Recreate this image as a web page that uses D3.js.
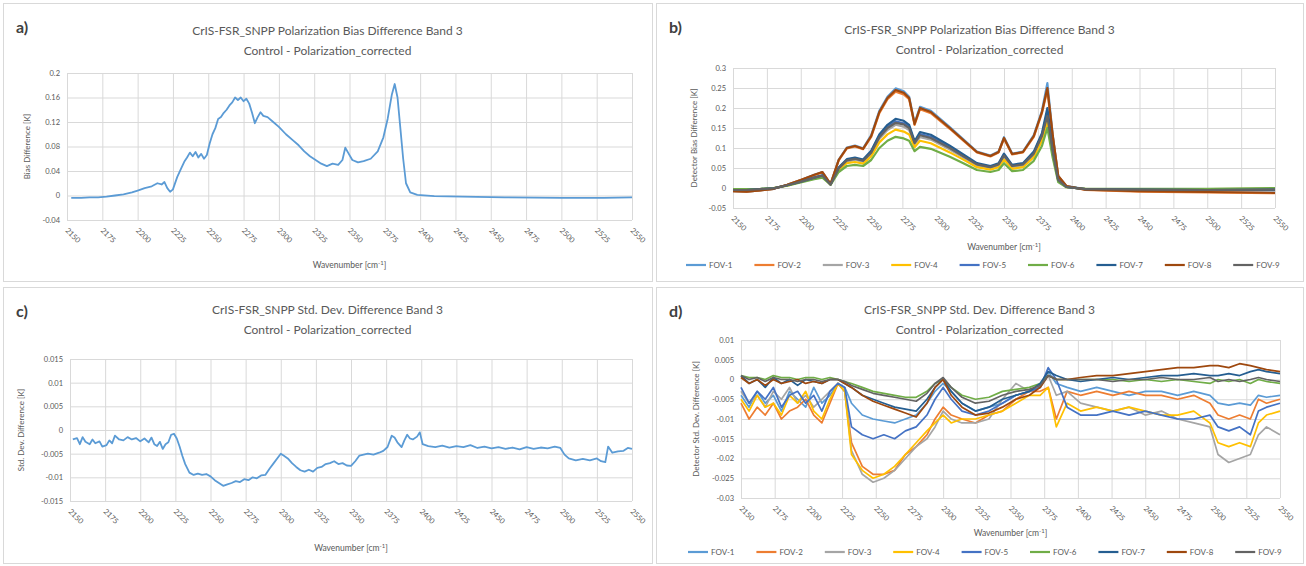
<!DOCTYPE html>
<html>
<head>
<meta charset="utf-8">
<script src="https://cdn.jsdelivr.net/npm/d3@7"></script>
<style>
  html, body { margin: 0; padding: 0; background: #ffffff; }
  svg { display: block; font-family: Lato, "Open Sans", "Liberation Sans", sans-serif; }
</style>
</head>
<body>
<svg id="chart" width="1306" height="566"></svg>
<script>
// ---------------- DATA ----------------
const xTicks = [2150, 2175, 2200, 2225, 2250, 2275, 2300, 2325, 2350, 2375, 2400, 2425, 2450, 2475, 2500, 2525, 2550];
const fovNames = ["FOV-1", "FOV-2", "FOV-3", "FOV-4", "FOV-5", "FOV-6", "FOV-7", "FOV-8", "FOV-9"];
const fovColors = ["#5B9BD5", "#ED7D31", "#A5A5A5", "#FFC000", "#4472C4", "#70AD47", "#255E91", "#9E480E", "#636363"];

const aYTicks = [-0.04, 0, 0.04, 0.08, 0.12, 0.16, 0.2];
const bYTicks = [-0.05, 0, 0.05, 0.1, 0.15, 0.2, 0.25, 0.3];
const cYTicks = [-0.015, -0.01, -0.005, 0, 0.005, 0.01, 0.015];
const dYTicks = [-0.03, -0.025, -0.02, -0.015, -0.01, -0.005, 0, 0.005, 0.01];

// a) mean bias difference
const aWavenumber = [2153,2160,2166,2172,2178,2184,2190,2196,2200,2205,2210,2214,2217,2219,2221,2223,2225,2228,2231,2233,2235,2237,2239,2241,2243,2245,2247,2249,2251,2253,2255,2257,2259,2261,2263,2265,2267,2269,2271,2273,2275,2277,2279,2281,2283,2285,2287,2289,2292,2296,2300,2305,2310,2314,2318,2322,2326,2330,2334,2338,2342,2345,2347,2349,2352,2356,2360,2365,2370,2374,2377,2380,2382,2384,2386,2388,2390,2393,2398,2410,2430,2460,2500,2530,2550];
const aBias = [-0.004,-0.004,-0.003,-0.003,-0.002,0.000,0.002,0.005,0.008,0.012,0.015,0.020,0.018,0.022,0.012,0.006,0.010,0.030,0.045,0.055,0.062,0.070,0.064,0.071,0.062,0.068,0.060,0.066,0.085,0.100,0.110,0.125,0.128,0.135,0.140,0.147,0.152,0.160,0.156,0.160,0.154,0.158,0.150,0.135,0.118,0.128,0.136,0.130,0.128,0.120,0.112,0.100,0.090,0.082,0.072,0.064,0.058,0.052,0.048,0.052,0.050,0.058,0.078,0.070,0.058,0.054,0.056,0.060,0.072,0.095,0.125,0.165,0.182,0.160,0.110,0.060,0.020,0.005,0.001,-0.001,-0.002,-0.003,-0.004,-0.004,-0.003];

// b) per-detector bias difference
const bWavenumber = [2150,2160,2170,2180,2190,2200,2210,2216,2222,2228,2234,2240,2246,2252,2258,2264,2270,2276,2280,2284,2288,2296,2310,2320,2330,2340,2346,2350,2356,2364,2372,2378,2382,2386,2390,2396,2410,2450,2500,2550];
const bFov1 = [-0.008,-0.009,-0.006,-0.002,0.008,0.020,0.033,0.040,0.010,0.071,0.101,0.106,0.099,0.132,0.193,0.228,0.249,0.242,0.228,0.162,0.203,0.193,0.152,0.122,0.091,0.081,0.091,0.127,0.086,0.091,0.132,0.193,0.262,0.132,0.030,0.005,-0.003,-0.005,-0.006,-0.006];
const bFov2 = [-0.008,-0.009,-0.006,-0.002,0.008,0.020,0.032,0.039,0.010,0.069,0.099,0.104,0.097,0.128,0.187,0.222,0.241,0.234,0.222,0.158,0.197,0.187,0.148,0.118,0.089,0.079,0.089,0.123,0.084,0.089,0.128,0.187,0.245,0.128,0.030,0.005,-0.005,-0.009,-0.011,-0.013];
const bFov3 = [-0.004,-0.005,-0.003,-0.001,0.007,0.016,0.025,0.030,0.009,0.048,0.066,0.070,0.066,0.085,0.123,0.145,0.158,0.153,0.145,0.109,0.127,0.121,0.096,0.076,0.056,0.050,0.056,0.078,0.053,0.056,0.083,0.126,0.175,0.089,0.019,0.003,-0.003,-0.003,-0.004,-0.003];
const bFov4 = [-0.004,-0.004,-0.003,0.000,0.006,0.015,0.024,0.028,0.008,0.045,0.062,0.065,0.061,0.079,0.114,0.134,0.146,0.141,0.134,0.102,0.118,0.112,0.089,0.071,0.052,0.046,0.052,0.071,0.048,0.052,0.077,0.118,0.165,0.083,0.018,0.002,-0.002,-0.003,-0.003,-0.002];
const bFov5 = [-0.005,-0.005,-0.003,-0.001,0.007,0.016,0.026,0.031,0.009,0.050,0.070,0.074,0.069,0.090,0.130,0.153,0.167,0.162,0.153,0.114,0.135,0.128,0.102,0.081,0.060,0.053,0.060,0.083,0.056,0.060,0.088,0.133,0.190,0.093,0.020,0.003,-0.003,-0.004,-0.005,-0.004];
const bFov6 = [-0.003,-0.003,-0.002,0.000,0.006,0.014,0.022,0.026,0.008,0.040,0.055,0.058,0.055,0.070,0.100,0.118,0.128,0.124,0.118,0.092,0.103,0.098,0.078,0.062,0.045,0.040,0.045,0.062,0.042,0.045,0.068,0.105,0.150,0.075,0.015,0.002,-0.002,-0.002,-0.002,0.000];
const bFov7 = [-0.005,-0.005,-0.003,-0.001,0.007,0.016,0.026,0.032,0.009,0.051,0.072,0.076,0.071,0.093,0.134,0.158,0.173,0.168,0.158,0.117,0.140,0.133,0.106,0.084,0.062,0.055,0.062,0.086,0.058,0.062,0.091,0.137,0.200,0.096,0.021,0.003,-0.003,-0.004,-0.005,-0.004];
const bFov8 = [-0.008,-0.009,-0.006,-0.002,0.008,0.020,0.033,0.040,0.010,0.070,0.100,0.105,0.098,0.130,0.190,0.225,0.245,0.238,0.225,0.160,0.200,0.190,0.150,0.120,0.090,0.080,0.090,0.125,0.085,0.090,0.130,0.190,0.250,0.130,0.030,0.005,-0.004,-0.008,-0.010,-0.012];
const bFov9 = [-0.005,-0.005,-0.003,-0.001,0.007,0.016,0.026,0.031,0.009,0.049,0.069,0.073,0.068,0.088,0.127,0.150,0.163,0.159,0.150,0.112,0.132,0.125,0.100,0.079,0.059,0.052,0.059,0.081,0.055,0.059,0.086,0.130,0.180,0.091,0.020,0.003,-0.003,-0.004,-0.005,-0.004];

// c) mean std. dev. difference
const cWavenumber = [2152,2155,2157,2159,2161,2164,2166,2168,2171,2173,2176,2178,2180,2182,2185,2188,2191,2194,2197,2200,2203,2206,2208,2210,2212,2214,2216,2218,2220,2222,2224,2226,2228,2230,2232,2235,2238,2241,2244,2247,2250,2253,2256,2259,2262,2265,2268,2271,2274,2277,2280,2283,2286,2289,2292,2295,2298,2300,2302,2305,2308,2311,2314,2317,2320,2323,2326,2329,2332,2335,2338,2341,2344,2347,2350,2353,2356,2359,2362,2366,2370,2373,2376,2379,2381,2383,2386,2388,2390,2392,2394,2397,2399,2401,2405,2410,2415,2420,2425,2430,2435,2440,2445,2450,2455,2460,2465,2470,2475,2480,2485,2490,2495,2499,2502,2505,2510,2515,2520,2525,2528,2531,2533,2536,2540,2544,2547,2550];
const cStd = [-0.0020,-0.0017,-0.0030,-0.0015,-0.0025,-0.0030,-0.0020,-0.0028,-0.0024,-0.0035,-0.0032,-0.0022,-0.0028,-0.0012,-0.0020,-0.0022,-0.0015,-0.0020,-0.0017,-0.0024,-0.0018,-0.0026,-0.0016,-0.0030,-0.0034,-0.0025,-0.0040,-0.0030,-0.0026,-0.0010,-0.0008,-0.0018,-0.0035,-0.0055,-0.0072,-0.0090,-0.0095,-0.0092,-0.0095,-0.0093,-0.0098,-0.0106,-0.0112,-0.0118,-0.0115,-0.0112,-0.0108,-0.0110,-0.0104,-0.0106,-0.0100,-0.0102,-0.0096,-0.0095,-0.0082,-0.0070,-0.0058,-0.0050,-0.0054,-0.0060,-0.0070,-0.0078,-0.0085,-0.0088,-0.0084,-0.0088,-0.0080,-0.0078,-0.0072,-0.0070,-0.0066,-0.0072,-0.0070,-0.0075,-0.0076,-0.0066,-0.0054,-0.0052,-0.0050,-0.0052,-0.0048,-0.0044,-0.0036,-0.0012,-0.0016,-0.0026,-0.0036,-0.0022,-0.0010,-0.0018,-0.0020,-0.0014,-0.0005,-0.0030,-0.0034,-0.0036,-0.0033,-0.0037,-0.0034,-0.0036,-0.0032,-0.0038,-0.0035,-0.0039,-0.0036,-0.0040,-0.0037,-0.0041,-0.0036,-0.0040,-0.0037,-0.0039,-0.0035,-0.0038,-0.0052,-0.0060,-0.0064,-0.0061,-0.0064,-0.0060,-0.0066,-0.0068,-0.0035,-0.0048,-0.0045,-0.0044,-0.0038,-0.0040];

// d) per-detector std. dev. difference
const dWavenumber = [2150,2156,2162,2168,2174,2180,2186,2192,2198,2204,2210,2216,2222,2227,2232,2240,2248,2256,2264,2272,2280,2288,2294,2300,2306,2314,2324,2334,2344,2354,2364,2372,2378,2384,2392,2402,2414,2426,2438,2450,2462,2474,2486,2498,2504,2512,2520,2528,2534,2540,2550];
const dFov1 = [-0.004,-0.007,-0.003,-0.006,-0.004,-0.008,-0.003,-0.005,-0.007,-0.002,-0.006,-0.004,-0.001,-0.002,-0.006,-0.009,-0.010,-0.0105,-0.011,-0.010,-0.009,-0.006,-0.003,-0.001,-0.003,-0.006,-0.008,-0.007,-0.006,-0.004,-0.003,-0.002,0.002,-0.001,-0.002,-0.003,-0.002,-0.003,-0.004,-0.003,-0.003,-0.004,-0.003,-0.004,-0.006,-0.0065,-0.006,-0.0065,-0.004,-0.0045,-0.004];
const dFov2 = [-0.006,-0.010,-0.007,-0.009,-0.006,-0.010,-0.008,-0.007,-0.005,-0.009,-0.011,-0.006,-0.001,-0.003,-0.016,-0.022,-0.024,-0.024,-0.023,-0.019,-0.017,-0.014,-0.010,-0.007,-0.009,-0.010,-0.011,-0.009,-0.008,-0.005,-0.003,-0.003,-0.002,-0.010,-0.003,-0.004,-0.003,-0.004,-0.003,-0.004,-0.004,-0.005,-0.004,-0.006,-0.009,-0.010,-0.009,-0.010,-0.005,-0.006,-0.005];
const dFov3 = [-0.003,-0.006,-0.004,-0.007,-0.003,-0.005,-0.002,-0.006,-0.004,-0.007,-0.005,-0.003,-0.001,-0.003,-0.018,-0.024,-0.026,-0.025,-0.023,-0.020,-0.017,-0.015,-0.012,-0.008,-0.010,-0.011,-0.011,-0.010,-0.005,-0.001,-0.003,-0.002,0.001,-0.004,-0.003,-0.006,-0.007,-0.008,-0.007,-0.009,-0.008,-0.010,-0.011,-0.012,-0.019,-0.021,-0.020,-0.019,-0.014,-0.012,-0.014];
const dFov4 = [-0.005,-0.008,-0.004,-0.007,-0.006,-0.009,-0.004,-0.006,-0.003,-0.008,-0.010,-0.005,-0.001,-0.003,-0.019,-0.023,-0.025,-0.024,-0.022,-0.019,-0.016,-0.013,-0.011,-0.009,-0.011,-0.010,-0.010,-0.009,-0.008,-0.006,-0.004,-0.004,-0.002,-0.012,-0.006,-0.008,-0.007,-0.008,-0.007,-0.008,-0.009,-0.009,-0.008,-0.011,-0.016,-0.017,-0.016,-0.017,-0.011,-0.009,-0.008];
const dFov5 = [-0.002,-0.006,-0.003,-0.005,-0.002,-0.007,-0.004,-0.003,-0.006,-0.004,-0.008,-0.003,-0.001,-0.002,-0.012,-0.014,-0.015,-0.014,-0.015,-0.013,-0.012,-0.009,-0.005,-0.002,-0.005,-0.008,-0.009,-0.008,-0.006,-0.004,-0.003,-0.002,0.003,0.000,-0.007,-0.009,-0.009,-0.008,-0.009,-0.008,-0.009,-0.010,-0.010,-0.009,-0.012,-0.013,-0.012,-0.014,-0.008,-0.007,-0.006];
const dFov6 = [0.001,0.0005,0.0005,0,0.001,0.0005,0.0005,0,0.0005,0.0005,0,0.0005,0,-0.0005,-0.001,-0.002,-0.003,-0.0035,-0.004,-0.0045,-0.0045,-0.003,-0.001,0,-0.002,-0.004,-0.005,-0.0045,-0.003,-0.0025,-0.002,-0.001,0.001,0,0,0,0,0,-0.0005,0,-0.0005,0,-0.0005,-0.001,0,-0.0005,0,-0.001,0,-0.0005,-0.001];
const dFov7 = [0.001,-0.001,0,-0.002,0.0005,-0.001,0,-0.0015,0,-0.0005,-0.001,0,0,-0.001,-0.002,-0.004,-0.005,-0.006,-0.007,-0.0075,-0.008,-0.005,-0.002,0,-0.003,-0.006,-0.008,-0.007,-0.005,-0.004,-0.003,-0.001,0.002,0.001,0,-0.0005,0,0.0005,0,0.0005,0.001,0.001,0.0015,0.001,0.001,0.0015,0.001,0.002,0.0025,0.002,0.0015];
const dFov8 = [0.0005,-0.001,0,-0.0015,0,-0.001,-0.0005,0,-0.001,-0.0005,-0.001,0,0,-0.001,-0.002,-0.004,-0.0055,-0.0065,-0.0075,-0.0085,-0.0095,-0.006,-0.002,0,-0.004,-0.007,-0.009,-0.0085,-0.007,-0.005,-0.004,-0.002,0.001,0,0,0.0005,0.001,0.001,0.0015,0.002,0.0025,0.003,0.003,0.0035,0.0035,0.003,0.004,0.0035,0.003,0.0025,0.002];
const dFov9 = [0.001,0,0.0005,-0.0005,0.0005,0,0,-0.0005,0,0,-0.0005,0,0,-0.0005,-0.0015,-0.0025,-0.0035,-0.004,-0.0045,-0.005,-0.0055,-0.0035,-0.001,0.0005,-0.002,-0.0045,-0.006,-0.0055,-0.004,-0.003,-0.0025,-0.0015,0.001,0,0,0,0,-0.0005,0,0,0.0005,0,0,0.0005,-0.0005,0,-0.0005,0,0.0005,0,-0.0005];

// ---------------- DRAWING ----------------
const svg = d3.select("#chart");
const TXT = "#595959";
const GRID = "#d9d9d9";

function drawPanel(p) {
  const g = svg.append("g");
  g.append("rect")
    .attr("x", p.box[0] + 0.5).attr("y", p.box[1] + 0.5)
    .attr("width", p.box[2]).attr("height", p.box[3])
    .attr("fill", "#fff").attr("stroke", GRID).attr("stroke-width", 1);

  const x = d3.scaleLinear().domain([xTicks[0], xTicks[xTicks.length - 1]]).range([p.left, p.right]);
  const y = d3.scaleLinear().domain([p.yTicks[0], p.yTicks[p.yTicks.length - 1]]).range([p.bottom, p.top]);

  // y axis + horizontal grid
  const ya = g.append("g").attr("transform", `translate(${p.left},0)`)
    .call(d3.axisLeft(y).tickValues(p.yTicks).tickSize(-(p.right - p.left)).tickPadding(7).tickFormat(d => String(d)));
  ya.select(".domain").remove();
  ya.selectAll("line").attr("stroke", GRID).attr("stroke-width", 1);
  ya.selectAll("text").attr("fill", TXT).attr("font-size", 7.5).attr("font-family", "Lato, sans-serif");

  // x axis + vertical grid
  const xa = g.append("g").attr("transform", `translate(0,${p.bottom})`)
    .call(d3.axisBottom(x).tickValues(xTicks).tickSize(-(p.bottom - p.top)).tickFormat(d => String(d)));
  xa.select(".domain").remove();
  xa.selectAll("line").attr("stroke", GRID).attr("stroke-width", 1);
  xa.selectAll("text")
    .attr("fill", TXT).attr("font-size", 7.5).attr("font-family", "Lato, sans-serif")
    .attr("x", 6).attr("y", 7).attr("dy", "0.35em")
    .attr("text-anchor", "start")
    .attr("transform", "rotate(45)");

  // series
  const line = d3.line().x(d => x(d[0])).y(d => y(d[1]));
  p.series.forEach(s => {
    const pts = s.xs.map((v, i) => [v, s.ys[i]]);
    g.append("path").datum(pts)
      .attr("fill", "none").attr("stroke", s.color)
      .attr("stroke-width", s.width || 1.6)
      .attr("stroke-linejoin", "round")
      .attr("d", line);
  });

  // titles
  const cx = p.box[0] + p.box[2] / 2;
  g.append("text").attr("x", cx).attr("y", p.titleY).attr("text-anchor", "middle")
    .attr("fill", TXT).attr("font-size", 12).text(p.title1);
  g.append("text").attr("x", cx).attr("y", p.titleY + 20).attr("text-anchor", "middle")
    .attr("fill", TXT).attr("font-size", 12).text(p.title2);
  // panel label
  g.append("text").attr("x", p.box[0] + 13).attr("y", p.labelY)
    .attr("fill", "#404040").attr("font-size", 16).attr("font-weight", "bold").text(p.label);
  // y title
  g.append("text")
    .attr("transform", `translate(${p.yTitleX},${(p.top + p.bottom) / 2}) rotate(-90)`)
    .attr("text-anchor", "middle").attr("fill", TXT).attr("font-size", 8).text(p.yTitle);
  // x title
  const xt = g.append("text").attr("x", (p.left + p.right) / 2).attr("y", p.xTitleY)
    .attr("text-anchor", "middle").attr("fill", TXT).attr("font-size", 8.5);
  xt.append("tspan").text("Wavenumber [cm");
  xt.append("tspan").attr("dy", -3).attr("font-size", 6).text("-1");
  xt.append("tspan").attr("dy", 3).text("]");

  // legend
  if (p.legend) {
    fovNames.forEach((name, i) => {
      const lx = p.legendX + i * 68.4;
      g.append("line").attr("x1", lx).attr("x2", lx + 20)
        .attr("y1", p.legendY).attr("y2", p.legendY)
        .attr("stroke", fovColors[i]).attr("stroke-width", 2.2);
      g.append("text").attr("x", lx + 23).attr("y", p.legendY).attr("dy", "0.35em")
        .attr("fill", TXT).attr("font-size", 8).text(name);
    });
  }
}

const bSeries = [bFov1, bFov2, bFov3, bFov4, bFov5, bFov6, bFov7, bFov8, bFov9]
  .map((ys, i) => ({ xs: bWavenumber, ys: ys, color: fovColors[i], width: 2.2 }));
const dSeries = [dFov1, dFov2, dFov3, dFov4, dFov5, dFov6, dFov7, dFov8, dFov9]
  .map((ys, i) => ({ xs: dWavenumber, ys: ys, color: fovColors[i], width: 1.7 }));

drawPanel({
  box: [3, 3, 649, 278], left: 67, right: 632, top: 73, bottom: 220,
  yTicks: aYTicks, label: "a)", labelY: 33, titleY: 35,
  title1: "CrIS-FSR_SNPP Polarization Bias Difference Band 3",
  title2: "Control - Polarization_corrected",
  yTitle: "Bias Difference [K]", yTitleX: 30, xTitleY: 268,
  series: [{ xs: aWavenumber, ys: aBias, color: "#5B9BD5", width: 1.8 }]
});
drawPanel({
  box: [656, 3, 647, 278], left: 733, right: 1275, top: 68, bottom: 208,
  yTicks: bYTicks, label: "b)", labelY: 33, titleY: 34,
  title1: "CrIS-FSR_SNPP Polarization Bias Difference Band 3",
  title2: "Control - Polarization_corrected",
  yTitle: "Detector Bias Difference [K]", yTitleX: 697, xTitleY: 250,
  series: bSeries, legend: true, legendX: 686, legendY: 265
});
drawPanel({
  box: [3, 287, 649, 276], left: 70, right: 632, top: 359, bottom: 501,
  yTicks: cYTicks, label: "c)", labelY: 317, titleY: 314,
  title1: "CrIS-FSR_SNPP Std. Dev. Difference Band 3",
  title2: "Control - Polarization_corrected",
  yTitle: "Std. Dev. Difference [K]", yTitleX: 24, xTitleY: 551,
  series: [{ xs: cWavenumber, ys: cStd, color: "#5B9BD5", width: 1.8 }]
});
drawPanel({
  box: [656, 287, 647, 276], left: 741, right: 1280, top: 340, bottom: 498,
  yTicks: dYTicks, label: "d)", labelY: 317, titleY: 314,
  title1: "CrIS-FSR_SNPP Std. Dev. Difference Band 3",
  title2: "Control - Polarization_corrected",
  yTitle: "Detector Std. Dev. Difference [K]", yTitleX: 699, xTitleY: 536,
  series: dSeries, legend: true, legendX: 688, legendY: 552
});
</script>
</body>
</html>
